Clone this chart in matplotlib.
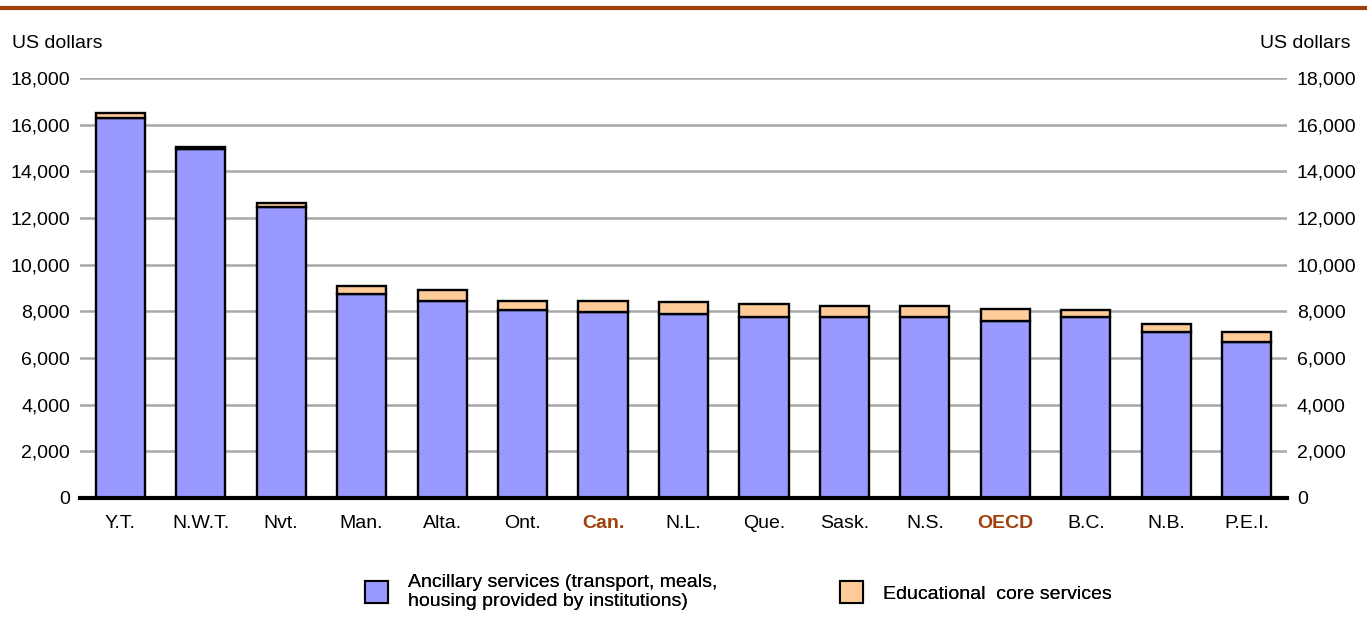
import numpy as np
import matplotlib
matplotlib.use('Agg')
import matplotlib.pyplot as plt
from matplotlib.patches import Patch

plt.rcParams['font.family'] = ['Liberation Sans', 'DejaVu Sans']

# data
regions = ['Y.T.', 'N.W.T.', 'Nvt.', 'Man.', 'Alta.', 'Ont.', 'Can.', 'N.L.',
           'Que.', 'Sask.', 'N.S.', 'OECD', 'B.C.', 'N.B.', 'P.E.I.']
ancillary = [16300, 14950, 12450, 8750, 8450, 8060, 7950, 7890,
             7770, 7770, 7770, 7600, 7770, 7100, 6700]
core = [200, 80, 200, 350, 470, 400, 500, 510,
        530, 470, 470, 510, 300, 340, 400]
highlight = ['Can.', 'OECD']

purple = '#9999ff'
peach = '#ffcc99'
accent = '#a0410d'
fs = 14

fig = plt.figure(figsize=(13.67, 6.18), dpi=100)
ax = fig.add_axes([0.0585, 0.1942, 0.883, 0.6796])

x = np.arange(len(regions))
ax.bar(x, ancillary, width=0.61, color=purple, edgecolor='black', linewidth=1.7, zorder=3)
ax.bar(x, core, width=0.61, bottom=ancillary, color=peach, edgecolor='black', linewidth=1.7, zorder=3)

ax.set_xlim(-0.5, len(regions) - 0.5)
ax.set_ylim(0, 18000)
ticks = np.arange(0, 18001, 2000)
ax.set_yticks(ticks)
ax.set_yticklabels([f'{t:,}' for t in ticks], fontsize=fs)
ax.yaxis.set_ticks_position('both')
ax.tick_params(axis='y', which='both', length=0, pad=7, labelright=True)
ax.grid(axis='y', color='#a8a8a8', linewidth=1.8, zorder=0)

ax.set_xticks(x)
ax.set_xticklabels(regions, fontsize=fs)
ax.tick_params(axis='x', length=0, pad=12)
for lbl in ax.get_xticklabels():
    if lbl.get_text() in highlight:
        lbl.set_color(accent)
        lbl.set_fontweight('bold')

for s in ['top', 'left', 'right']:
    ax.spines[s].set_visible(False)
ax.spines['bottom'].set_linewidth(3)
ax.spines['bottom'].set_zorder(5)

fig.text(12 / 1367, 1 - 44 / 618, 'US dollars', fontsize=fs, va='center', ha='left')
fig.text(1350 / 1367, 1 - 44 / 618, 'US dollars', fontsize=fs, va='center', ha='right')

# top rule
fig.add_artist(plt.Line2D([0, 1], [1 - 8 / 618, 1 - 8 / 618], color=accent, linewidth=3))

# legend, two separate entries
entries = [(purple, 'Ancillary services (transport, meals,\nhousing provided by institutions)', 365),
           (peach, 'Educational  core services', 840)]
for color, text, xpos in entries:
    leg = fig.legend([Patch(facecolor=color, edgecolor='black', linewidth=1.5)], [text],
                     loc='center left', bbox_to_anchor=(xpos / 1367, 1 - 592 / 618),
                     frameon=False, fontsize=fs, handlelength=1.2, handleheight=1.3,
                     handletextpad=1.0, borderpad=0, borderaxespad=0, labelspacing=0.2)
    fig.add_artist(leg)

fig.savefig('out.png', dpi=100)
